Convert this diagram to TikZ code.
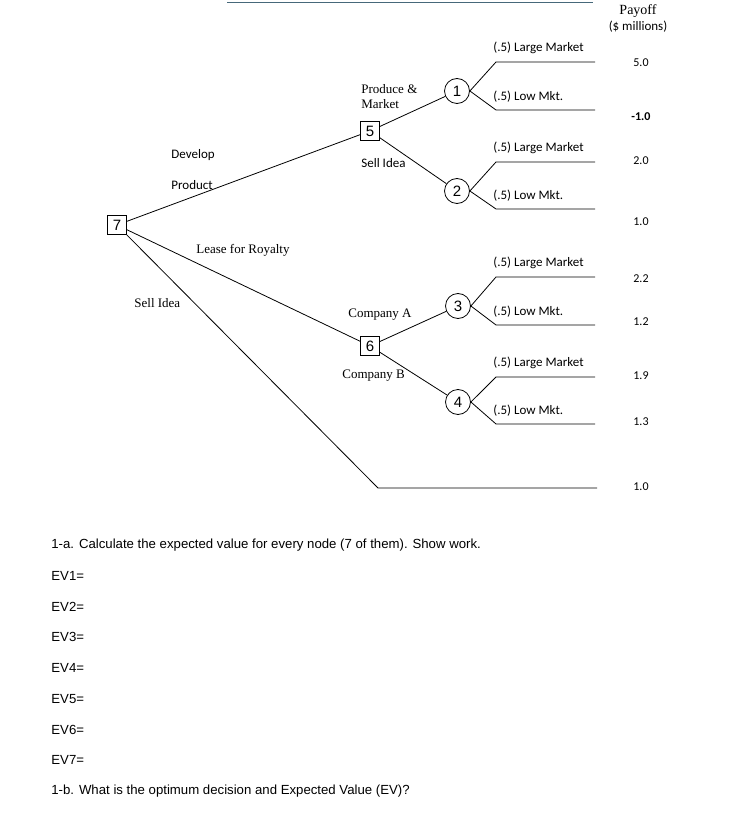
\documentclass[tikz,border=0pt]{standalone}
\usepackage{fontspec}
\setmainfont{Liberation Serif}
\setsansfont{Liberation Sans}
\newfontfamily\calibri{Carlito}
\usetikzlibrary{positioning}
\definecolor{rulegray}{HTML}{46687A}
\begin{document}
\begin{tikzpicture}[x=1pt,y=-1pt,line width=.8pt,
  decision/.style={draw,rectangle,minimum size=19pt,inner sep=0pt,font=\sffamily\fontsize{15}{15}\selectfont},
  chance/.style={draw,circle,minimum size=25pt,inner sep=0pt,font=\sffamily\fontsize{15}{15}\selectfont},
  clabel/.style={anchor=west,inner sep=0pt,font=\calibri\fontsize{13}{13}\selectfont},
  tlabel/.style={anchor=west,inner sep=0pt,align=left,font=\fontsize{13}{15}\selectfont},
  payoff/.style={inner sep=0pt,font=\calibri\fontsize{12}{12}\selectfont},
  question/.style={anchor=west,inner sep=0pt,font=\sffamily\fontsize{13.2}{13.2}\selectfont}]
\useasboundingbox (0,0) rectangle (752,826);
\draw [rulegray] (227,2) -- (593,2);
% decision and chance nodes
\node[decision] (d7) at (117,225) {7};
\node[decision] (d5) at (370,131) {5};
\node[decision] (d6) at (370,346) {6};
\node[chance] (c1) at (457,91) {1};
\node[chance] (c2) at (457,191) {2};
\node[chance] (c3) at (458,306) {3};
\node[chance] (c4) at (458,402) {4};
\draw (d7) -- (d5);
\draw (d7) -- (d6);
\draw (d5) -- (c1);
\draw (d5) -- (c2);
\draw (d6) -- (c3);
\draw (d6) -- (c4);
\coordinate (s0) at (378,488);
\coordinate (s1) at (597,488);
\draw (d7) -- (s0) -- (s1);
% market branches
\foreach \c/\ya/\yb in {c1/62/110, c2/162/209, c3/277/325, c4/377/424} {
  \coordinate (\c u0) at (496,\ya);
  \coordinate (\c u1) at (595,\ya);
  \coordinate (\c l0) at (496,\yb);
  \coordinate (\c l1) at (595,\yb);
  \draw (\c.east) -- (\c u0) -- (\c u1);
  \draw (\c.east) -- (\c l0) -- (\c l1);
  \node[clabel] (\c large) at (493,\ya-14) {(.5) Large Market};
  \node[clabel] (\c low) at (493,\yb-13) {(.5) Low Mkt.};
}
% branch labels
\node[clabel] (develop) at (171,155) {Develop};
\node[clabel] (product) at (171,185) {Product};
\node[tlabel] (produce) at (361,96.5) {Produce \&\\Market};
\node[clabel] (sell5) at (361,163) {Sell Idea};
\node[tlabel] (lease) at (196,250) {Lease for Royalty};
\node[tlabel] (sell7) at (134,303) {Sell Idea};
\node[tlabel] (compa) at (348,315) {Company A};
\node[tlabel] (compb) at (342,376) {Company B};
% payoffs
\node[inner sep=0pt,font=\fontsize{14}{14}\selectfont] (payhead) at (638,11) {Payoff};
\node[payoff,font=\calibri\fontsize{13}{13}\selectfont] (millions) at (638,27) {(\$ millions)};
\foreach \v/\y [count=\i] in {5.0/63, 2.0/161, 1.0/222, 2.2/279, 1.2/322, 1.9/376, 1.3/422, 1.0/487}
  \node[payoff] (p\i) at (641,\y) {\v};
\node[payoff,font=\calibri\bfseries\fontsize{12}{12}\selectfont] (pneg) at (641,117) {-1.0};
% questions
\node[question] (qa) at (51,545) {1-a. Calculate the expected value for every node (7 of them). Show work.};
\foreach \i in {1,...,7}
  \node[question] (ev\i) at (51,{576+(\i-1)*30.7}) {EV\i=};
\node[question] (qb) at (51,791) {1-b. What is the optimum decision and Expected Value (EV)?};
\end{tikzpicture}
\end{document}
